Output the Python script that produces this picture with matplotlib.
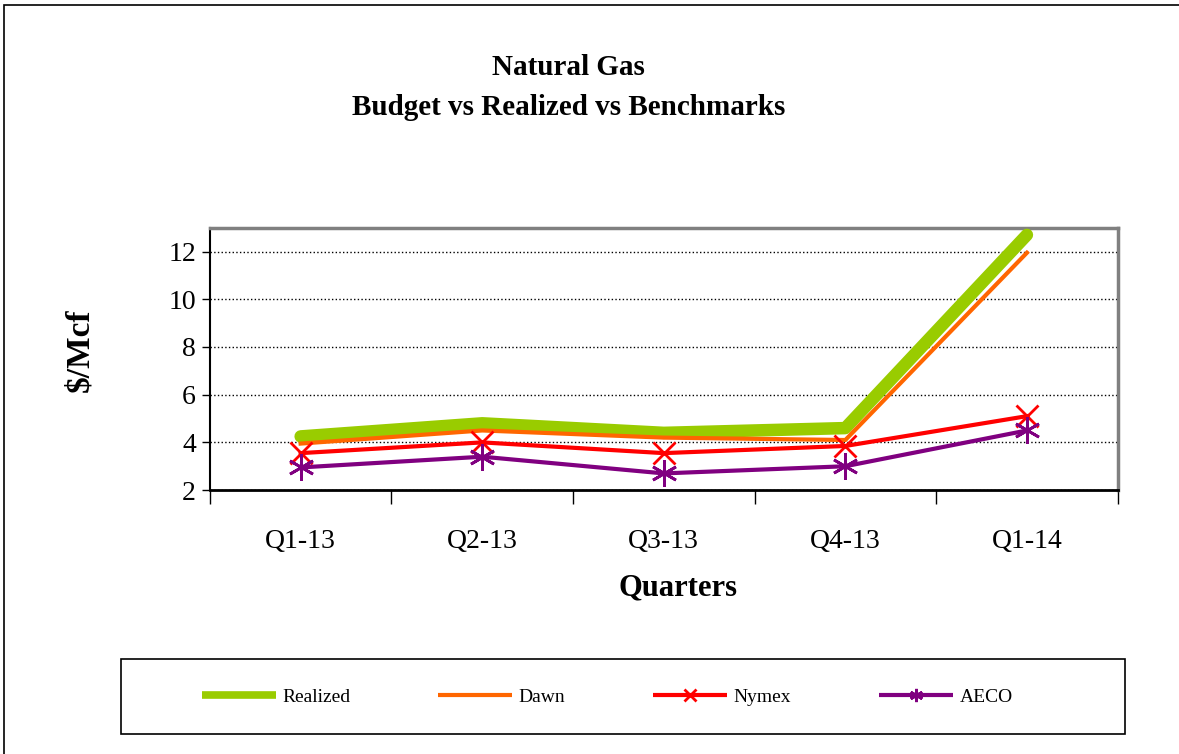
import matplotlib.pyplot as plt
from matplotlib.patches import Rectangle

quarters = ["Q1-13", "Q2-13", "Q3-13", "Q4-13", "Q1-14"]
realized = [4.25, 4.8, 4.4, 4.6, 12.7]
dawn = [3.95, 4.5, 4.2, 4.1, 11.95]
nymex = [3.55, 4.0, 3.55, 3.85, 5.1]
aeco = [2.95, 3.4, 2.7, 3.0, 4.5]

plt.rcParams['font.family'] = ['Liberation Serif', 'DejaVu Serif']

fig = plt.figure(figsize=(11.79, 7.54), dpi=100)
ax = fig.add_axes([0.178, 0.350, 0.770, 0.348])

x = range(len(quarters))
ax.plot(x, realized, color="#99CC00", lw=9, solid_capstyle="round", label="Realized", zorder=3)
ax.plot(x, dawn, color="#FF6600", lw=3, label="Dawn", zorder=4)
ax.plot(x, nymex, color="#FF0000", lw=3, marker="x", ms=16, mew=2, label="Nymex", zorder=5)
ax.plot(x, aeco, color="#800080", lw=3, marker=(6, 2, 0), ms=19, mew=2, label="AECO", zorder=6)

ax.set_xlim(-0.5, 4.5)
ax.set_ylim(2, 13)
ax.set_yticks([2, 4, 6, 8, 10, 12])
ax.set_xticks(list(x))
ax.set_xticklabels(quarters)
ax.set_xticks([i - 0.5 for i in range(6)], minor=True)
ax.tick_params(axis="x", which="major", length=0, pad=28, labelsize=20)
ax.tick_params(axis="x", which="minor", length=10, width=1, direction="out")
ax.tick_params(axis="y", length=6, width=1, labelsize=20, pad=4)
ax.grid(axis="y", color="black", linestyle=":", lw=1)
for s in ["top", "right"]:
    ax.spines[s].set_color("#808080")
    ax.spines[s].set_linewidth(2.5)
ax.spines["left"].set_linewidth(1.5)
ax.spines["bottom"].set_linewidth(2)

fig.text(0.482, 0.911, "Natural Gas", ha="center", va="center", fontsize=21, fontweight="bold")
fig.text(0.482, 0.858, "Budget vs Realized vs Benchmarks", ha="center", va="center", fontsize=21, fontweight="bold")
fig.text(0.068, 0.535, r"\$/Mcf", ha="center", va="center", rotation=90, fontsize=24, fontweight="bold")
fig.text(0.575, 0.22, "Quarters", ha="center", va="center", fontsize=22, fontweight="bold")

# legend box and outer border
fig.patches.append(Rectangle((121 / 1179, 1 - 734 / 754), (1125 - 121) / 1179, 75 / 754,
                             transform=fig.transFigure, fill=False, edgecolor="black", lw=1.2))
fig.patches.append(Rectangle((4 / 1179, -0.05), 1.1, 1 - 5 / 754 + 0.05,
                             transform=fig.transFigure, fill=False, edgecolor="black", lw=1.2))

h, l = ax.get_legend_handles_labels()
leg = fig.legend(h, l, loc="center", bbox_to_anchor=(0.515, 1 - 697 / 754), ncol=4, frameon=False,
                 fontsize=14, handlelength=3.8, handletextpad=0.35, columnspacing=4.5, markerscale=0.5)
for line, w in zip(leg.get_lines(), [5.5, 3, 3, 3]):
    line.set_linewidth(w)
    line.set_solid_capstyle("butt")

fig.savefig("out.png", dpi=100)
